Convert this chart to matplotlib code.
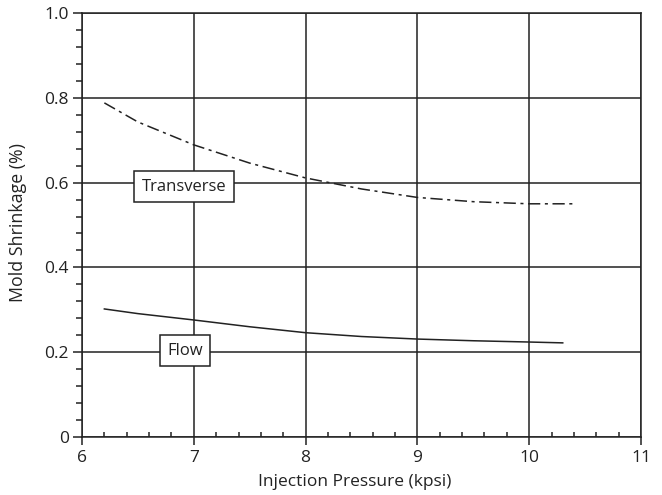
import matplotlib
matplotlib.use("Agg")
import matplotlib.pyplot as plt
from matplotlib.ticker import MultipleLocator

plt.rcParams['font.family'] = ['Open Sans', 'DejaVu Sans']

# data
transverse_x = [6.2, 6.5, 7.0, 7.5, 8.0, 8.5, 9.0, 9.5, 10.0, 10.4]
transverse_y = [0.788, 0.743, 0.689, 0.646, 0.611, 0.585, 0.565, 0.555, 0.550, 0.550]
flow_x = [6.2, 6.5, 7.0, 7.5, 8.0, 8.5, 9.0, 9.5, 10.0, 10.3]
flow_y = [0.302, 0.291, 0.276, 0.260, 0.246, 0.237, 0.231, 0.227, 0.224, 0.222]

yticks = [0, 0.2, 0.4, 0.6, 0.8, 1.0]
ytick_labels = ["0", "0.2", "0.4", "0.6", "0.8", "1.0"]
xticks = [6, 7, 8, 9, 10, 11]

ink = "#222222"

fig = plt.figure(figsize=(6.62, 4.95), dpi=100)
ax = fig.add_axes([82 / 662, 1 - 437 / 495, (641 - 82) / 662, (437 - 13) / 495])

ax.plot(transverse_x, transverse_y, color=ink, lw=1.1, linestyle=(0, (8, 3, 2, 3)))
ax.plot(flow_x, flow_y, color=ink, lw=1.1)

ax.set_xlim(6, 11)
ax.set_ylim(0, 1.0)
ax.set_xticks(xticks)
ax.set_yticks(yticks)
ax.set_yticklabels(ytick_labels)
ax.xaxis.set_minor_locator(MultipleLocator(0.2))
ax.yaxis.set_minor_locator(MultipleLocator(0.04))
ax.grid(True, which='major', color=ink, lw=1.1)

ax.tick_params(axis='x', which='major', direction='out', length=6, width=1.1, color=ink,
               labelsize=12.5, labelcolor=ink, pad=3)
ax.tick_params(axis='x', which='minor', direction='in', length=3.5, width=1.1, color=ink)
ax.tick_params(axis='y', which='major', direction='out', length=6.5, width=1.1, color=ink,
               labelsize=12.5, labelcolor=ink, pad=3)
ax.tick_params(axis='y', which='minor', direction='out', length=4.5, width=1.1, color=ink)
for s in ax.spines.values():
    s.set_color(ink)
    s.set_linewidth(1.1)

ax.set_xlabel("Injection Pressure (kpsi)", fontsize=12.5, color=ink)
ax.xaxis.set_label_coords(0.487, -0.088)
ax.set_ylabel("Mold Shrinkage (%)", fontsize=12.8, color=ink)
ax.yaxis.set_label_coords(-0.098, 0.507)

box = dict(boxstyle='square,pad=0.45', fc='white', ec=ink, lw=1.1)
ax.text(6.91, 0.59, "Transverse", ha='center', va='center', fontsize=12, color=ink, bbox=box)
ax.text(6.92, 0.203, "Flow", ha='center', va='center', fontsize=12, color=ink, bbox=box)

fig.savefig("out.png", dpi=100)
